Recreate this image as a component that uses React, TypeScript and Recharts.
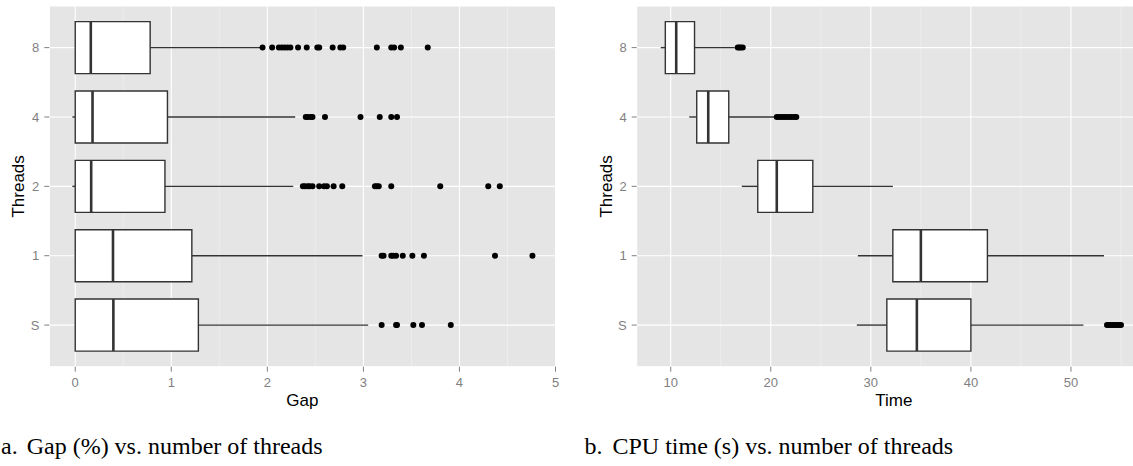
import React from "react";
import {
  CartesianGrid,
  ComposedChart,
  Label,
  ReferenceArea,
  ReferenceLine,
  Scatter,
  XAxis,
  YAxis,
} from "recharts";

// categories, bottom to top
const THREADS = ["S", "1", "2", "4", "8"];

// a. gap (%)
const GAP_MIN = [0, 0, -0.03, -0.03, 0];
const GAP_Q1 = [0, 0, 0, 0, 0];
const GAP_MEDIAN = [0.397, 0.393, 0.166, 0.18, 0.162];
const GAP_Q3 = [1.282, 1.214, 0.934, 0.96, 0.78];
const GAP_MAX = [3.05, 2.99, 2.27, 2.29, 1.93];
const GAP_OUTLIERS = [
  [3.19, 3.34, 3.35, 3.52, 3.61, 3.91],
  [3.19, 3.21, 3.29, 3.31, 3.34, 3.41, 3.51, 3.63, 4.37, 4.76],
  [2.37, 2.39, 2.42, 2.44, 2.47, 2.54, 2.59, 2.62, 2.69, 2.78, 3.12, 3.14, 3.16, 3.29, 3.8, 4.3, 4.42],
  [2.4, 2.42, 2.45, 2.47, 2.6, 2.97, 3.17, 3.29, 3.35],
  [1.95, 2.05, 2.12, 2.15, 2.18, 2.21, 2.24, 2.32, 2.41, 2.52, 2.54, 2.68, 2.76, 2.79, 3.14, 3.29, 3.32, 3.39, 3.67],
];
const GAP_TICKS = [0, 1, 2, 3, 4, 5];
const GAP_MINOR = [0.5, 1.5, 2.5, 3.5, 4.5];

// b. cpu time (s)
const TIME_MIN = [28.6, 28.7, 17.1, 11.85, 9.0];
const TIME_Q1 = [31.6, 32.2, 18.7, 12.6, 9.46];
const TIME_MEDIAN = [34.6, 35.0, 20.6, 13.75, 10.55];
const TIME_Q3 = [40.0, 41.65, 24.2, 15.8, 12.38];
const TIME_MAX = [51.25, 53.3, 32.2, 20.4, 16.4];
const TIME_OUTLIERS = [
  [53.6, 53.8, 54.0, 54.2, 54.4, 54.6, 54.8, 55.0],
  [],
  [],
  [20.6, 20.85, 21.1, 21.35, 21.6, 21.85, 22.1, 22.35, 22.55],
  [16.7, 16.85, 17.0, 17.2],
];
const TIME_TICKS = [10, 20, 30, 40, 50];
const TIME_MINOR = [15, 25, 35, 45, 55];

const BOX = "#333333";
const TICK = "#7f7f7f";

function BoxPanel(props: any) {
  const { left, width, min, q1, median, q3, max, outliers, domain, ticks, minor, xTitle, axisWidth, titleOffset, marginRight } = props;
  const points = outliers.flatMap((vals: number[], i: number) => vals.map((v) => ({ v, pos: i + 1 })));

  return (
    <div style={{ position: "absolute", left, top: 0 }}>
      <ComposedChart
        width={width}
        height={466}
        margin={{ top: 6, right: marginRight, bottom: 59.3, left: 0 }}
        style={{ fontFamily: "'Liberation Sans', Arial, sans-serif" }}
      >
        <CartesianGrid fill="#e5e5e5" horizontal={false} verticalValues={minor} stroke="#f2f2f2" strokeWidth={0.6} />
        <CartesianGrid stroke="#ffffff" strokeWidth={1.1} />
        <XAxis
          type="number"
          dataKey="v"
          domain={domain}
          ticks={ticks}
          allowDataOverflow
          axisLine={false}
          tickSize={5}
          tickMargin={6}
          height={40}
          tickLine={{ stroke: TICK }}
          tick={{ fill: TICK, fontSize: 13 }}
        >
          <Label value={xTitle} position="insideBottom" offset={1} style={{ fill: "#000", fontSize: 17 }} />
        </XAxis>
        <YAxis
          type="number"
          dataKey="pos"
          domain={[0.4, 5.6]}
          ticks={[1, 2, 3, 4, 5]}
          allowDataOverflow
          tickFormatter={(p: number) => THREADS[p - 1]}
          width={axisWidth}
          axisLine={false}
          tickSize={5}
          tickMargin={5}
          tickLine={{ stroke: TICK }}
          tick={{ fill: TICK, fontSize: 13 }}
        >
          <Label
            value="Threads"
            angle={-90}
            position="insideLeft"
            offset={titleOffset}
            style={{ textAnchor: "middle", fill: "#000", fontSize: 17 }}
          />
        </YAxis>
        {THREADS.map((t, i) => (
          <ReferenceArea
            key={`box-${t}`}
            x1={q1[i]}
            x2={q3[i]}
            y1={i + 1 - 0.375}
            y2={i + 1 + 0.375}
            fill="#ffffff"
            fillOpacity={1}
            stroke={BOX}
            strokeWidth={1.4}
          />
        ))}
        {THREADS.map((t, i) => (
          <ReferenceLine
            key={`lo-${t}`}
            segment={[{ x: min[i], y: i + 1 }, { x: q1[i], y: i + 1 }]}
            stroke={BOX}
            strokeWidth={1.4}
          />
        ))}
        {THREADS.map((t, i) => (
          <ReferenceLine
            key={`hi-${t}`}
            segment={[{ x: q3[i], y: i + 1 }, { x: max[i], y: i + 1 }]}
            stroke={BOX}
            strokeWidth={1.4}
          />
        ))}
        {THREADS.map((t, i) => (
          <ReferenceLine
            key={`med-${t}`}
            segment={[{ x: median[i], y: i + 1 - 0.375 }, { x: median[i], y: i + 1 + 0.375 }]}
            stroke={BOX}
            strokeWidth={2.6}
          />
        ))}
        <Scatter
          data={points}
          dataKey="v"
          isAnimationActive={false}
          shape={(p: any) => <circle cx={p.cx} cy={p.cy} r={3} fill="#000000" />}
        />
      </ComposedChart>
    </div>
  );
}

const captionStyle: React.CSSProperties = {
  position: "absolute",
  top: 434,
  fontFamily: "'Liberation Serif', 'Times New Roman', serif",
  fontSize: 24,
  lineHeight: 1,
  whiteSpace: "nowrap",
  color: "#000",
};

export default function App() {
  return (
    <div style={{ position: "absolute", left: 0, top: 0, width: 1133, height: 466, overflow: "hidden", background: "#fff" }}>
      <BoxPanel
        left={0}
        width={570}
        min={GAP_MIN}
        q1={GAP_Q1}
        median={GAP_MEDIAN}
        q3={GAP_Q3}
        max={GAP_MAX}
        outliers={GAP_OUTLIERS}
        domain={[-0.27, 5.0]}
        ticks={GAP_TICKS}
        minor={GAP_MINOR}
        xTitle="Gap"
        axisWidth={49.3}
        titleOffset={18}
        marginRight={14.5}
      />
      <BoxPanel
        left={570}
        width={600}
        min={TIME_MIN}
        q1={TIME_Q1}
        median={TIME_MEDIAN}
        q3={TIME_Q3}
        max={TIME_MAX}
        outliers={TIME_OUTLIERS}
        domain={[6.6, 58.0]}
        ticks={TIME_TICKS}
        minor={TIME_MINOR}
        xTitle="Time"
        axisWidth={66.7}
        titleOffset={35.7}
        marginRight={19}
      />
      <div style={{ ...captionStyle, left: 1 }}>
        a.<span style={{ marginLeft: 9 }}>Gap (%) vs. number of threads</span>
      </div>
      <div style={{ ...captionStyle, left: 584.5 }}>
        b.<span style={{ marginLeft: 10 }}>CPU time (s) vs. number of threads</span>
      </div>
    </div>
  );
}
